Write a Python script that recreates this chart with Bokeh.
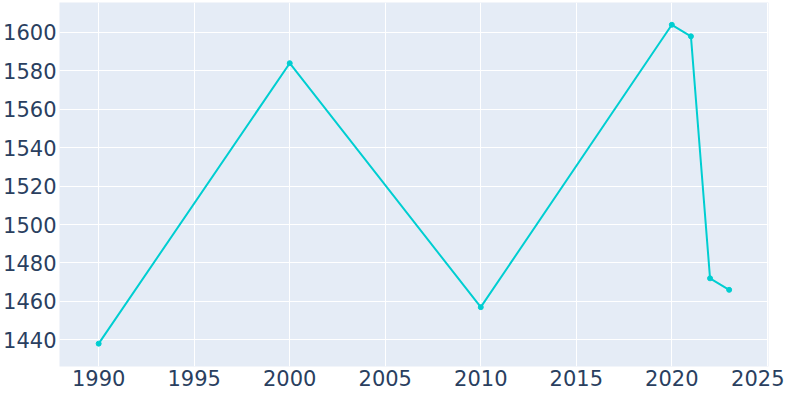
from bokeh.plotting import figure
from bokeh.models import FixedTicker, Range1d
from bokeh.embed import file_html
from bokeh.resources import INLINE

years = [1990, 2000, 2010, 2020, 2021, 2022, 2023]
population = [1438, 1584, 1457, 1604, 1598, 1472, 1466]
x_ticks = [1990, 1995, 2000, 2005, 2010, 2015, 2020, 2025]
y_ticks = [1440, 1460, 1480, 1500, 1520, 1540, 1560, 1580, 1600]

line_color = "#00CED1"
text_color = "#2a3f5f"
font = "DejaVu Sans"

p = figure(width=784, height=392, output_backend="svg", toolbar_location=None,
           x_range=Range1d(1987.95, 2025.06), y_range=Range1d(1426.1, 1615.6),
           min_border_left=58, min_border_right=16, min_border_top=2, min_border_bottom=26)
p.background_fill_color = "#E5ECF6"
p.border_fill_color = "white"
p.outline_line_color = None

p.line(years, population, line_color=line_color, line_width=2)
p.scatter(years, population, size=5, fill_color=line_color, line_color=line_color)

for ax in (p.xaxis, p.yaxis):
    ax.axis_line_color = None
    ax.major_tick_line_color = None
    ax.minor_tick_line_color = None
    ax.major_tick_in = 0
    ax.major_tick_out = 0
    ax.minor_tick_in = 0
    ax.minor_tick_out = 0
    ax.major_label_text_font = font
    ax.major_label_text_font_size = "21px"
    ax.major_label_text_color = text_color
p.xaxis.ticker = FixedTicker(ticks=x_ticks)
p.yaxis.ticker = FixedTicker(ticks=y_ticks)
p.xaxis.major_label_standoff = 3
p.yaxis.major_label_standoff = 3

p.xgrid.ticker = FixedTicker(ticks=x_ticks)
p.ygrid.ticker = FixedTicker(ticks=y_ticks)
p.grid.grid_line_color = "white"
p.grid.grid_line_width = 1

open("out.html", "w").write(file_html(p, INLINE))
